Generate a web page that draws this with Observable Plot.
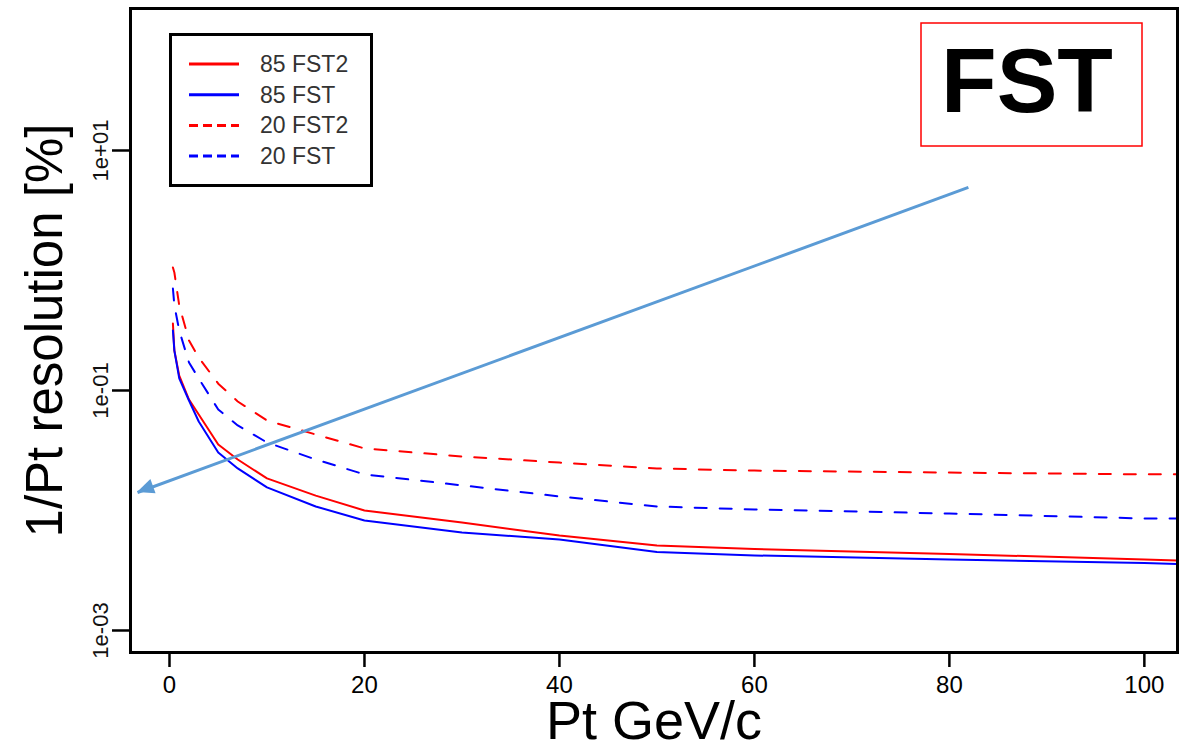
<!DOCTYPE html>
<html><head><meta charset="utf-8">
<script src="https://cdn.jsdelivr.net/npm/d3@7"></script>
<script src="https://cdn.jsdelivr.net/npm/@observablehq/plot@0.6"></script>
<style>
body{margin:0;background:#fff;}
#wrap{position:relative;width:1187px;height:743px;overflow:hidden;}
#wrap svg [aria-label^="x-axis"] line, #wrap svg [aria-label^="x-axis"] path,
#wrap svg [aria-label^="y-axis"] line, #wrap svg [aria-label^="y-axis"] path{stroke-width:2.5px;stroke:#000;}
</style></head><body><div id="wrap"></div>
<script>
// Pt values (GeV/c) at which the curves were read
const pt = [0.35, 0.5, 1, 2, 3, 5, 7, 10, 15, 20, 30, 40, 50, 60, 80, 100, 103.4];
// 1/Pt resolution values for each series
const res85FST2 = [0.362, 0.215, 0.133, 0.0841, 0.0631, 0.0355, 0.0266, 0.0185, 0.0133, 0.0100, 0.00794, 0.00619, 0.00511, 0.00478, 0.00434, 0.00391, 0.00383];
const res85FST  = [0.316, 0.215, 0.126, 0.0825, 0.0552, 0.0304, 0.0224, 0.0156, 0.0108, 0.00825, 0.00656, 0.00573, 0.00451, 0.00422, 0.00391, 0.00365, 0.00358];
const res20FST2 = [1.06, 0.962, 0.511, 0.261, 0.188, 0.114, 0.081, 0.0562, 0.043, 0.0329, 0.0282, 0.0251, 0.0224, 0.0215, 0.0207, 0.0200, 0.0200];
const res20FST  = [0.708, 0.511, 0.316, 0.171, 0.126, 0.0694, 0.0511, 0.0369, 0.0266, 0.0200, 0.0162, 0.0131, 0.0108, 0.0102, 0.00944, 0.00858, 0.00858];

const seriesNames = ["85 FST2", "85 FST", "20 FST2", "20 FST"];
const seriesValues = [res85FST2, res85FST, res20FST2, res20FST];
const seriesColors = ["#ff0000", "#0000ff", "#ff0000", "#0000ff"];
const seriesDashed = [false, false, true, true];

const xTicks = [0, 20, 40, 60, 80, 100];
const yTicks = [1e-3, 1e-1, 1e1];
const yTickLabels = ["1e-03", "1e-01", "1e+01"];
const xTitle = "Pt GeV/c";
const yTitle = "1/Pt resolution [%]";
const boxLabel = "FST";
// annotation arrow (data units): from -> to (arrowhead end)
const arrowFrom = {pt: 81.95, res: 4.92};
const arrowTo = {pt: -3.28, res: 0.01413};

const rows = [];
seriesNames.forEach((s, k) => pt.forEach((p, i) => rows.push({series: s, pt: p, res: seriesValues[k][i]})));

const FONT = '"Liberation Sans", Arial, Helvetica, sans-serif';

const marks = [];
seriesNames.forEach((s, k) => {
  marks.push(Plot.line(rows.filter(d => d.series === s), {
    x: "pt", y: "res", stroke: seriesColors[k], strokeWidth: 2,
    strokeDasharray: seriesDashed[k] ? "12,13" : null, clip: true
  }));
});
marks.push(Plot.link([{from: arrowFrom, to: arrowTo}], {
  x1: d => d.from.pt, y1: d => d.from.res, x2: d => d.to.pt, y2: d => d.to.res,
  stroke: "#5b9bd5", strokeWidth: 3
}));
marks.push(Plot.text(yTicks, {
  y: d => d, text: (d, i) => yTickLabels[i], frameAnchor: "left", dx: -30,
  rotate: -90, textAnchor: "middle", fontSize: 22, fill: "#111"
}));
marks.push(Plot.text([xTitle], {text: d => d, frameAnchor: "bottom", textAnchor: "middle", lineAnchor: "top", dy: 48, fontSize: 54, fill: "#000"}));
marks.push(Plot.text([yTitle], {text: d => d, frameAnchor: "left", textAnchor: "middle", rotate: -90, dx: -85, fontSize: 51, fill: "#000"}));
marks.push(Plot.frame({stroke: "#000", strokeWidth: 3}));

const chart = Plot.plot({
  width: 1187, height: 743,
  marginLeft: 130, marginRight: 10, marginTop: 8, marginBottom: 91,
  style: {fontFamily: FONT, fontSize: "24px", background: "#fff", color: "#000"},
  x: {domain: [-4.0, 103.4], ticks: xTicks, tickSize: 15, tickPadding: 8, label: null, tickFormat: d => String(d)},
  y: {type: "log", domain: [6.555e-4, 152.5], ticks: yTicks, tickSize: 18, tickFormat: () => "", label: null},
  marks
});
document.getElementById("wrap").appendChild(chart);

const svg = d3.select(chart);
const sx = chart.scale("x").apply, sy = chart.scale("y").apply;
// arrowhead
{
  const Sx = sx(arrowFrom.pt), Sy = sy(arrowFrom.res), Px = sx(arrowTo.pt), Py = sy(arrowTo.res);
  const L = Math.hypot(Px - Sx, Py - Sy), ux = (Px - Sx) / L, uy = (Py - Sy) / L;
  const bx = Px - ux * 17, by = Py - uy * 17, nx = -uy, ny = ux;
  svg.append("polygon")
    .attr("points", [[Px, Py], [bx + nx * 7.5, by + ny * 7.5], [bx - nx * 7.5, by - ny * 7.5]].map(p => p.join(",")).join(" "))
    .attr("fill", "#5b9bd5");
}
// legend
{
  const g = svg.append("g");
  g.append("rect").attr("x", 170.5).attr("y", 34.5).attr("width", 201).attr("height", 151)
    .attr("fill", "#fff").attr("stroke", "#000").attr("stroke-width", 3);
  seriesNames.forEach((s, k) => {
    const y = 64 + k * 30.7;
    g.append("line").attr("x1", 189).attr("x2", 239).attr("y1", y).attr("y2", y)
      .attr("stroke", seriesColors[k]).attr("stroke-width", 3)
      .attr("stroke-dasharray", seriesDashed[k] ? "9,5" : null);
    g.append("text").attr("x", 260).attr("y", y + 8).attr("font-size", 23)
      .attr("text-anchor", "start")
      .attr("font-family", FONT).attr("fill", "#333").text(s);
  });
}
// FST box
{
  const g = svg.append("g");
  g.append("rect").attr("x", 921).attr("y", 23).attr("width", 221).attr("height", 123)
    .attr("fill", "none").attr("stroke", "#ff0000").attr("stroke-width", 1.5);
  g.append("text").attr("x", 1027).attr("y", 112).attr("text-anchor", "middle")
    .attr("font-size", 91).attr("font-weight", "bold").attr("font-family", FONT).attr("fill", "#000").text(boxLabel);
}
</script></body></html>
